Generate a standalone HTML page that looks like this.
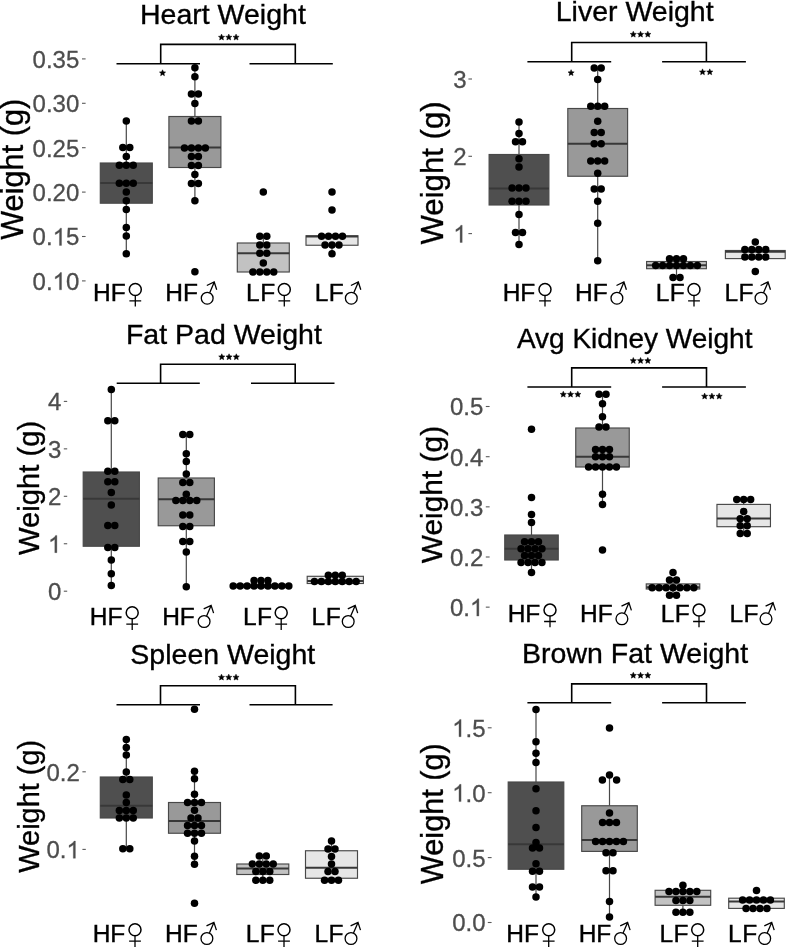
<!DOCTYPE html>
<html><head><meta charset="utf-8"><title>Organ weights</title>
<style>html,body{margin:0;padding:0;background:#fff;}body{width:787px;height:949px;overflow:hidden;font-family:"Liberation Sans", sans-serif;}svg{will-change:transform;}svg text{font-family:"Liberation Sans", sans-serif;}</style></head>
<body>
<svg width="787" height="949" viewBox="0 0 787 949" font-family='"Liberation Sans", sans-serif' style="display:block">
<rect width="787" height="949" fill="#fff"/>
<g>
<text x="222.9" y="24" font-size="28.5" text-anchor="middle" fill="#000" stroke="#000" stroke-width="0.35">Heart Weight</text>
<text transform="translate(23.4 169.3) rotate(-90)" font-size="30.7" text-anchor="middle" fill="#000" stroke="#000" stroke-width="0.35">Weight (g)</text>
<g font-size="24" fill="#4d4d4d" stroke="#4d4d4d" stroke-width="0.3"><text x="32.6" y="67.8">0</text><text x="45.94" y="67.8">.</text><text x="52.61" y="67.8">3</text><text x="65.96" y="67.8">5</text></g>
<path d="M82 58.9H85.6" stroke="#5a5a5a" stroke-width="1.1"/>
<g font-size="24" fill="#4d4d4d" stroke="#4d4d4d" stroke-width="0.3"><text x="32.6" y="112.2">0</text><text x="45.94" y="112.2">.</text><text x="52.61" y="112.2">3</text><text x="65.96" y="112.2">0</text></g>
<path d="M82 103.3H85.6" stroke="#5a5a5a" stroke-width="1.1"/>
<g font-size="24" fill="#4d4d4d" stroke="#4d4d4d" stroke-width="0.3"><text x="32.6" y="156.6">0</text><text x="45.94" y="156.6">.</text><text x="52.61" y="156.6">2</text><text x="65.96" y="156.6">5</text></g>
<path d="M82 147.7H85.6" stroke="#5a5a5a" stroke-width="1.1"/>
<g font-size="24" fill="#4d4d4d" stroke="#4d4d4d" stroke-width="0.3"><text x="32.6" y="201">0</text><text x="45.94" y="201">.</text><text x="52.61" y="201">2</text><text x="65.96" y="201">0</text></g>
<path d="M82 192.1H85.6" stroke="#5a5a5a" stroke-width="1.1"/>
<g font-size="24" fill="#4d4d4d" stroke="#4d4d4d" stroke-width="0.3"><text x="32.6" y="245.4">0</text><text x="45.94" y="245.4">.</text><path d="M61.55 245.4L59.44 245.4L59.44 231.96Q58.68 232.69 57.45 233.41Q56.21 234.14 55.23 234.5L55.23 232.46Q56.99 231.63 58.32 230.45Q59.64 229.26 60.19 228.15L61.55 228.15Z"/><text x="65.96" y="245.4">5</text></g>
<path d="M82 236.5H85.6" stroke="#5a5a5a" stroke-width="1.1"/>
<g font-size="24" fill="#4d4d4d" stroke="#4d4d4d" stroke-width="0.3"><text x="32.6" y="289.8">0</text><text x="45.94" y="289.8">.</text><path d="M61.55 289.8L59.44 289.8L59.44 276.36Q58.68 277.09 57.45 277.81Q56.21 278.54 55.23 278.9L55.23 276.86Q56.99 276.03 58.32 274.85Q59.64 273.66 60.19 272.55L61.55 272.55Z"/><text x="65.96" y="289.8">0</text></g>
<path d="M82 280.9H85.6" stroke="#5a5a5a" stroke-width="1.1"/>
<path d="M116.5 63.7H200M249.5 63.7H332.8M160.7 63.7V44.4H295.3V63.7" fill="none" stroke="#000" stroke-width="1.6"/>
<g fill="#000" stroke="#000" stroke-width="0.5" stroke-linejoin="round"><polygon points="221.54,34.11 222.42,36.15 224.63,36.35 222.97,37.82 223.45,39.99 221.54,38.86 219.63,39.99 220.11,37.82 218.45,36.35 220.66,36.15"/><polygon points="228.8,34.11 229.68,36.15 231.89,36.35 230.23,37.82 230.71,39.99 228.8,38.86 226.89,39.99 227.37,37.82 225.71,36.35 227.92,36.15"/><polygon points="236.06,34.11 236.94,36.15 239.15,36.35 237.49,37.82 237.97,39.99 236.06,38.86 234.15,39.99 234.63,37.82 232.97,36.35 235.18,36.15"/></g>
<g fill="#000" stroke="#000" stroke-width="0.5" stroke-linejoin="round"><polygon points="162.55,69.81 163.43,71.85 165.64,72.05 163.98,73.52 164.46,75.69 162.55,74.56 160.64,75.69 161.12,73.52 159.46,72.05 161.67,71.85"/></g>
<path d="M126.3 121V163M126.3 203.2V253.75" stroke="#484848" stroke-width="1.2"/>
<rect x="100.3" y="163" width="52" height="40.2" fill="#4f4f4f" stroke="#484848" stroke-width="1.15"/>
<path d="M100.3 183H152.3" stroke="#383838" stroke-width="2"/>
<g fill="#000"><circle cx="126.3" cy="121" r="3.75"/><circle cx="122.83" cy="147.5" r="3.75"/><circle cx="129.78" cy="147.5" r="3.75"/><circle cx="126.3" cy="156.5" r="3.75"/><circle cx="119.35" cy="165.3" r="3.75"/><circle cx="126.3" cy="165.3" r="3.75"/><circle cx="133.25" cy="165.3" r="3.75"/><circle cx="119.35" cy="183.2" r="3.75"/><circle cx="126.3" cy="183.2" r="3.75"/><circle cx="133.25" cy="183.2" r="3.75"/><circle cx="126.3" cy="192" r="3.75"/><circle cx="126.3" cy="200.8" r="3.75"/><circle cx="126.3" cy="209.5" r="3.75"/><circle cx="126.3" cy="227.5" r="3.75"/><circle cx="126.3" cy="236" r="3.75"/><circle cx="126.3" cy="253.75" r="3.75"/></g>
<path d="M194.9 67.8V116.5M194.9 167.5V200.8" stroke="#484848" stroke-width="1.2"/>
<rect x="168.9" y="116.5" width="52" height="51" fill="#999999" stroke="#484848" stroke-width="1.15"/>
<path d="M168.9 147.5H220.9" stroke="#383838" stroke-width="2"/>
<g fill="#000"><circle cx="194.9" cy="67.8" r="3.75"/><circle cx="194.9" cy="76.8" r="3.75"/><circle cx="191.43" cy="94" r="3.75"/><circle cx="198.38" cy="94" r="3.75"/><circle cx="194.9" cy="103.5" r="3.75"/><circle cx="191.43" cy="121" r="3.75"/><circle cx="198.38" cy="121" r="3.75"/><circle cx="184.47" cy="148" r="3.75"/><circle cx="191.43" cy="148" r="3.75"/><circle cx="198.38" cy="148" r="3.75"/><circle cx="205.33" cy="148" r="3.75"/><circle cx="191.43" cy="156.5" r="3.75"/><circle cx="198.38" cy="156.5" r="3.75"/><circle cx="191.43" cy="165.5" r="3.75"/><circle cx="198.38" cy="165.5" r="3.75"/><circle cx="194.9" cy="174.5" r="3.75"/><circle cx="191.43" cy="183.5" r="3.75"/><circle cx="198.38" cy="183.5" r="3.75"/><circle cx="194.9" cy="200.8" r="3.75"/><circle cx="194.9" cy="271.75" r="3.75"/></g>
<path d="M263.3 236.25V243M263.3 272V272" stroke="#484848" stroke-width="1.2"/>
<rect x="237.3" y="243" width="52" height="29" fill="#c2c2c2" stroke="#484848" stroke-width="1.15"/>
<path d="M237.3 253.25H289.3" stroke="#383838" stroke-width="2"/>
<g fill="#000"><circle cx="263.3" cy="192" r="3.75"/><circle cx="259.82" cy="236.25" r="3.75"/><circle cx="266.78" cy="236.25" r="3.75"/><circle cx="259.82" cy="245" r="3.75"/><circle cx="266.78" cy="245" r="3.75"/><circle cx="259.82" cy="253.25" r="3.75"/><circle cx="266.78" cy="253.25" r="3.75"/><circle cx="263.3" cy="263" r="3.75"/><circle cx="252.88" cy="272" r="3.75"/><circle cx="259.82" cy="272" r="3.75"/><circle cx="266.78" cy="272" r="3.75"/><circle cx="273.73" cy="272" r="3.75"/></g>
<path d="M332 235.75V235.75M332 245.25V253.75" stroke="#484848" stroke-width="1.2"/>
<rect x="306" y="235.75" width="52" height="9.5" fill="#e6e6e6" stroke="#484848" stroke-width="1.15"/>
<path d="M306 236.6H358" stroke="#383838" stroke-width="2"/>
<g fill="#000"><circle cx="332" cy="192" r="3.75"/><circle cx="332" cy="210" r="3.75"/><circle cx="321.57" cy="236.25" r="3.75"/><circle cx="328.52" cy="236.25" r="3.75"/><circle cx="335.48" cy="236.25" r="3.75"/><circle cx="342.43" cy="236.25" r="3.75"/><circle cx="325.05" cy="245" r="3.75"/><circle cx="332" cy="245" r="3.75"/><circle cx="338.95" cy="245" r="3.75"/><circle cx="332" cy="253.75" r="3.75"/></g>
<text x="92.95" y="301.2" font-size="24.5" fill="#000" stroke="#000" stroke-width="0.4">HF</text>
<g fill="none" stroke="#000"><circle cx="135.3" cy="289.5" r="6" stroke-width="1.5"/><path d="M135.3 295.5V306.6M129.4 300.9H141.2" stroke-width="1.3"/></g>
<text x="165.25" y="301.2" font-size="24.5" fill="#000" stroke="#000" stroke-width="0.4">HF</text>
<g fill="none" stroke="#000" stroke-width="1.3"><circle cx="207.2" cy="298.2" r="5.9"/><path d="M209.7 292.8L214.2 282.2M206.8 285.5L214.2 282L216.7 289.8"/></g>
<text x="246.1" y="301.2" font-size="24.5" fill="#000" stroke="#000" stroke-width="0.4">L<tspan dx="0.4">F</tspan></text>
<g fill="none" stroke="#000"><circle cx="284.3" cy="289.5" r="6" stroke-width="1.5"/><path d="M284.3 295.5V306.6M278.4 300.9H290.2" stroke-width="1.3"/></g>
<text x="314.7" y="301.2" font-size="24.5" fill="#000" stroke="#000" stroke-width="0.4">L<tspan dx="0.4">F</tspan></text>
<g fill="none" stroke="#000" stroke-width="1.3"><circle cx="351.3" cy="298.2" r="5.9"/><path d="M353.8 292.8L358.3 282.2M350.9 285.5L358.3 282L360.8 289.8"/></g>
</g>
<g>
<text x="634.7" y="21.3" font-size="28.5" text-anchor="middle" fill="#000" stroke="#000" stroke-width="0.35">Liver Weight</text>
<text transform="translate(442.6 172.95) rotate(-90)" font-size="31.2" text-anchor="middle" fill="#000" stroke="#000" stroke-width="0.35">Weight (g)</text>
<g font-size="24" fill="#4d4d4d" stroke="#4d4d4d" stroke-width="0.3"><text x="453.26" y="87.9">3</text></g>
<path d="M468.4 79H472" stroke="#5a5a5a" stroke-width="1.1"/>
<g font-size="24" fill="#4d4d4d" stroke="#4d4d4d" stroke-width="0.3"><text x="453.26" y="165.2">2</text></g>
<path d="M468.4 156.3H472" stroke="#5a5a5a" stroke-width="1.1"/>
<g font-size="24" fill="#4d4d4d" stroke="#4d4d4d" stroke-width="0.3"><path d="M462.2 242.5L460.09 242.5L460.09 229.06Q459.33 229.79 458.09 230.51Q456.85 231.24 455.87 231.6L455.87 229.56Q457.64 228.73 458.96 227.55Q460.29 226.36 460.84 225.25L462.2 225.25Z"/></g>
<path d="M468.4 233.6H472" stroke="#5a5a5a" stroke-width="1.1"/>
<path d="M527.4 61.7H611.2M662.1 61.7H745.9M571.7 61.7V42.5H706.4V61.7" fill="none" stroke="#000" stroke-width="1.6"/>
<g fill="#000" stroke="#000" stroke-width="0.5" stroke-linejoin="round"><polygon points="633.29,31.21 634.17,33.25 636.38,33.45 634.72,34.92 635.2,37.09 633.29,35.96 631.38,37.09 631.86,34.92 630.2,33.45 632.41,33.25"/><polygon points="640.55,31.21 641.43,33.25 643.64,33.45 641.98,34.92 642.46,37.09 640.55,35.96 638.64,37.09 639.12,34.92 637.46,33.45 639.67,33.25"/><polygon points="647.81,31.21 648.69,33.25 650.9,33.45 649.24,34.92 649.72,37.09 647.81,35.96 645.9,37.09 646.38,34.92 644.72,33.45 646.93,33.25"/></g>
<g fill="#000" stroke="#000" stroke-width="0.5" stroke-linejoin="round"><polygon points="571.1,69.66 571.98,71.7 574.19,71.9 572.53,73.37 573.01,75.54 571.1,74.41 569.19,75.54 569.67,73.37 568.01,71.9 570.22,71.7"/></g>
<g fill="#000" stroke="#000" stroke-width="0.5" stroke-linejoin="round"><polygon points="702.52,68.86 703.4,70.9 705.61,71.1 703.95,72.57 704.43,74.74 702.52,73.61 700.61,74.74 701.09,72.57 699.43,71.1 701.64,70.9"/><polygon points="709.78,68.86 710.66,70.9 712.87,71.1 711.21,72.57 711.69,74.74 709.78,73.61 707.87,74.74 708.35,72.57 706.69,71.1 708.9,70.9"/></g>
<path d="M519 122V154.5M519 205V244.5" stroke="#484848" stroke-width="1.2"/>
<rect x="489.1" y="154.5" width="59.8" height="50.5" fill="#4f4f4f" stroke="#484848" stroke-width="1.15"/>
<path d="M489.1 188.5H548.9" stroke="#383838" stroke-width="2"/>
<g fill="#000"><circle cx="519" cy="122" r="3.75"/><circle cx="519" cy="133.5" r="3.75"/><circle cx="515.52" cy="141.8" r="3.75"/><circle cx="522.48" cy="141.8" r="3.75"/><circle cx="519" cy="158.75" r="3.75"/><circle cx="519" cy="167" r="3.75"/><circle cx="512.05" cy="188" r="3.75"/><circle cx="519" cy="188" r="3.75"/><circle cx="525.95" cy="188" r="3.75"/><circle cx="512.05" cy="201.25" r="3.75"/><circle cx="519" cy="201.25" r="3.75"/><circle cx="525.95" cy="201.25" r="3.75"/><circle cx="519" cy="214.5" r="3.75"/><circle cx="515.52" cy="232.5" r="3.75"/><circle cx="522.48" cy="232.5" r="3.75"/><circle cx="519" cy="244.5" r="3.75"/></g>
<path d="M597.7 68V108.5M597.7 176.25V260.75" stroke="#484848" stroke-width="1.2"/>
<rect x="567.8" y="108.5" width="59.8" height="67.75" fill="#999999" stroke="#484848" stroke-width="1.15"/>
<path d="M567.8 143.75H627.6" stroke="#383838" stroke-width="2"/>
<g fill="#000"><circle cx="594.23" cy="68" r="3.75"/><circle cx="601.18" cy="68" r="3.75"/><circle cx="597.7" cy="79.5" r="3.75"/><circle cx="590.75" cy="106.25" r="3.75"/><circle cx="597.7" cy="106.25" r="3.75"/><circle cx="604.65" cy="106.25" r="3.75"/><circle cx="597.7" cy="121.25" r="3.75"/><circle cx="594.23" cy="132.5" r="3.75"/><circle cx="601.18" cy="132.5" r="3.75"/><circle cx="594.23" cy="143.75" r="3.75"/><circle cx="601.18" cy="143.75" r="3.75"/><circle cx="590.75" cy="160.9" r="3.75"/><circle cx="597.7" cy="160.9" r="3.75"/><circle cx="604.65" cy="160.9" r="3.75"/><circle cx="597.7" cy="173.2" r="3.75"/><circle cx="594.23" cy="189" r="3.75"/><circle cx="601.18" cy="189" r="3.75"/><circle cx="597.7" cy="201.25" r="3.75"/><circle cx="597.7" cy="223.25" r="3.75"/><circle cx="597.7" cy="260.75" r="3.75"/></g>
<path d="M676.5 258.7V261.5M676.5 268.7V277.5" stroke="#484848" stroke-width="1.2"/>
<rect x="646.6" y="261.5" width="59.8" height="7.2" fill="#c2c2c2" stroke="#484848" stroke-width="1.15"/>
<path d="M646.6 265.2H706.4" stroke="#383838" stroke-width="2"/>
<g fill="#000"><circle cx="669.55" cy="258.7" r="3.75"/><circle cx="676.5" cy="258.7" r="3.75"/><circle cx="683.45" cy="258.7" r="3.75"/><circle cx="655.65" cy="265.6" r="3.75"/><circle cx="662.6" cy="265.6" r="3.75"/><circle cx="669.55" cy="265.6" r="3.75"/><circle cx="676.5" cy="265.6" r="3.75"/><circle cx="683.45" cy="265.6" r="3.75"/><circle cx="690.4" cy="265.6" r="3.75"/><circle cx="697.35" cy="265.6" r="3.75"/><circle cx="673.02" cy="277.5" r="3.75"/><circle cx="679.98" cy="277.5" r="3.75"/></g>
<path d="M755.3 250.5V250.5M755.3 258.6V258.6" stroke="#484848" stroke-width="1.2"/>
<rect x="725.4" y="250.5" width="59.8" height="8.1" fill="#e6e6e6" stroke="#484848" stroke-width="1.15"/>
<path d="M725.4 251.7H785.2" stroke="#383838" stroke-width="2"/>
<g fill="#000"><circle cx="755.3" cy="242" r="3.75"/><circle cx="744.88" cy="249.6" r="3.75"/><circle cx="751.82" cy="249.6" r="3.75"/><circle cx="758.77" cy="249.6" r="3.75"/><circle cx="765.72" cy="249.6" r="3.75"/><circle cx="744.88" cy="257" r="3.75"/><circle cx="751.82" cy="257" r="3.75"/><circle cx="758.77" cy="257" r="3.75"/><circle cx="765.72" cy="257" r="3.75"/><circle cx="755.3" cy="271.6" r="3.75"/></g>
<text x="502.65" y="301.2" font-size="24.5" fill="#000" stroke="#000" stroke-width="0.4">HF</text>
<g fill="none" stroke="#000"><circle cx="545" cy="289.5" r="6" stroke-width="1.5"/><path d="M545 295.5V306.6M539.1 300.9H550.9" stroke-width="1.3"/></g>
<text x="574.95" y="301.2" font-size="24.5" fill="#000" stroke="#000" stroke-width="0.4">HF</text>
<g fill="none" stroke="#000" stroke-width="1.3"><circle cx="616.9" cy="298.2" r="5.9"/><path d="M619.4 292.8L623.9 282.2M616.5 285.5L623.9 282L626.4 289.8"/></g>
<text x="655.8" y="301.2" font-size="24.5" fill="#000" stroke="#000" stroke-width="0.4">L<tspan dx="0.4">F</tspan></text>
<g fill="none" stroke="#000"><circle cx="694" cy="289.5" r="6" stroke-width="1.5"/><path d="M694 295.5V306.6M688.1 300.9H699.9" stroke-width="1.3"/></g>
<text x="724.4" y="301.2" font-size="24.5" fill="#000" stroke="#000" stroke-width="0.4">L<tspan dx="0.4">F</tspan></text>
<g fill="none" stroke="#000" stroke-width="1.3"><circle cx="761" cy="298.2" r="5.9"/><path d="M763.5 292.8L768 282.2M760.6 285.5L768 282L770.5 289.8"/></g>
</g>
<g>
<text x="223.9" y="344" font-size="28.5" text-anchor="middle" fill="#000" stroke="#000" stroke-width="0.35">Fat Pad Weight</text>
<text transform="translate(38.8 487.95) rotate(-90)" font-size="29.2" text-anchor="middle" fill="#000" stroke="#000" stroke-width="0.35">Weight (g)</text>
<g font-size="24" fill="#4d4d4d" stroke="#4d4d4d" stroke-width="0.3"><text x="47.96" y="410.3">4</text></g>
<path d="M63.8 401.4H67.2" stroke="#5a5a5a" stroke-width="1.1"/>
<g font-size="24" fill="#4d4d4d" stroke="#4d4d4d" stroke-width="0.3"><text x="47.96" y="457.75">3</text></g>
<path d="M63.8 448.85H67.2" stroke="#5a5a5a" stroke-width="1.1"/>
<g font-size="24" fill="#4d4d4d" stroke="#4d4d4d" stroke-width="0.3"><text x="47.96" y="505.2">2</text></g>
<path d="M63.8 496.3H67.2" stroke="#5a5a5a" stroke-width="1.1"/>
<g font-size="24" fill="#4d4d4d" stroke="#4d4d4d" stroke-width="0.3"><path d="M56.9 552.65L54.79 552.65L54.79 539.21Q54.03 539.94 52.79 540.66Q51.55 541.39 50.57 541.75L50.57 539.71Q52.34 538.88 53.66 537.7Q54.99 536.51 55.54 535.4L56.9 535.4Z"/></g>
<path d="M63.8 543.75H67.2" stroke="#5a5a5a" stroke-width="1.1"/>
<g font-size="24" fill="#4d4d4d" stroke="#4d4d4d" stroke-width="0.3"><text x="47.96" y="600.1">0</text></g>
<path d="M63.8 591.2H67.2" stroke="#5a5a5a" stroke-width="1.1"/>
<path d="M116.7 383.2H199.8M251 383.2H334.5M160.6 383.2V364.2H295.2V383.2" fill="none" stroke="#000" stroke-width="1.6"/>
<g fill="#000" stroke="#000" stroke-width="0.5" stroke-linejoin="round"><polygon points="221.79,353.81 222.67,355.85 224.88,356.05 223.22,357.52 223.7,359.69 221.79,358.56 219.88,359.69 220.36,357.52 218.7,356.05 220.91,355.85"/><polygon points="229.05,353.81 229.93,355.85 232.14,356.05 230.48,357.52 230.96,359.69 229.05,358.56 227.14,359.69 227.62,357.52 225.96,356.05 228.17,355.85"/><polygon points="236.31,353.81 237.19,355.85 239.4,356.05 237.74,357.52 238.22,359.69 236.31,358.56 234.4,359.69 234.88,357.52 233.22,356.05 235.43,355.85"/></g>
<path d="M111.3 389.5V472M111.3 546.25V585.5" stroke="#484848" stroke-width="1.2"/>
<rect x="83.2" y="472" width="56.2" height="74.25" fill="#4f4f4f" stroke="#484848" stroke-width="1.15"/>
<path d="M83.2 498.75H139.4" stroke="#383838" stroke-width="2"/>
<g fill="#000"><circle cx="111.3" cy="389.5" r="3.75"/><circle cx="107.83" cy="420.75" r="3.75"/><circle cx="114.77" cy="420.75" r="3.75"/><circle cx="107.83" cy="471.25" r="3.75"/><circle cx="114.77" cy="471.25" r="3.75"/><circle cx="107.83" cy="481.75" r="3.75"/><circle cx="114.77" cy="481.75" r="3.75"/><circle cx="111.3" cy="492.5" r="3.75"/><circle cx="111.3" cy="505" r="3.75"/><circle cx="107.83" cy="525.5" r="3.75"/><circle cx="114.77" cy="525.5" r="3.75"/><circle cx="107.83" cy="547.5" r="3.75"/><circle cx="114.77" cy="547.5" r="3.75"/><circle cx="111.3" cy="560" r="3.75"/><circle cx="111.3" cy="573.75" r="3.75"/><circle cx="111.3" cy="585.5" r="3.75"/></g>
<path d="M186.3 434.5V478M186.3 525.75V586.75" stroke="#484848" stroke-width="1.2"/>
<rect x="158.2" y="478" width="56.2" height="47.75" fill="#999999" stroke="#484848" stroke-width="1.15"/>
<path d="M158.2 499.25H214.4" stroke="#383838" stroke-width="2"/>
<g fill="#000"><circle cx="182.83" cy="434.5" r="3.75"/><circle cx="189.78" cy="434.5" r="3.75"/><circle cx="186.3" cy="453.75" r="3.75"/><circle cx="186.3" cy="461.5" r="3.75"/><circle cx="186.3" cy="474" r="3.75"/><circle cx="182.83" cy="482.5" r="3.75"/><circle cx="189.78" cy="482.5" r="3.75"/><circle cx="186.3" cy="494.2" r="3.75"/><circle cx="175.88" cy="500.5" r="3.75"/><circle cx="182.83" cy="500.5" r="3.75"/><circle cx="189.78" cy="500.5" r="3.75"/><circle cx="196.73" cy="500.5" r="3.75"/><circle cx="182.83" cy="515" r="3.75"/><circle cx="189.78" cy="515" r="3.75"/><circle cx="182.83" cy="526.5" r="3.75"/><circle cx="189.78" cy="526.5" r="3.75"/><circle cx="182.83" cy="541.5" r="3.75"/><circle cx="189.78" cy="541.5" r="3.75"/><circle cx="186.3" cy="552" r="3.75"/><circle cx="186.3" cy="586.75" r="3.75"/></g>
<path d="M261 584.3V584.3M261 587.6V587.6" stroke="#484848" stroke-width="1.2"/>
<rect x="232.9" y="584.3" width="56.2" height="3.3" fill="#c2c2c2" stroke="#484848" stroke-width="1.15"/>
<path d="M232.9 585.9H289.1" stroke="#383838" stroke-width="2"/>
<g fill="#000"><circle cx="254.05" cy="580.4" r="3.75"/><circle cx="261" cy="580.4" r="3.75"/><circle cx="267.95" cy="580.4" r="3.75"/><circle cx="233.2" cy="585.9" r="3.75"/><circle cx="240.15" cy="585.9" r="3.75"/><circle cx="247.1" cy="585.9" r="3.75"/><circle cx="254.05" cy="585.9" r="3.75"/><circle cx="261" cy="585.9" r="3.75"/><circle cx="267.95" cy="585.9" r="3.75"/><circle cx="274.9" cy="585.9" r="3.75"/><circle cx="281.85" cy="585.9" r="3.75"/><circle cx="288.8" cy="585.9" r="3.75"/></g>
<path d="M335.3 576.3V576.3M335.3 583.5V583.5" stroke="#484848" stroke-width="1.2"/>
<rect x="307.2" y="576.3" width="56.2" height="7.2" fill="#e6e6e6" stroke="#484848" stroke-width="1.15"/>
<path d="M307.2 581H363.4" stroke="#383838" stroke-width="2"/>
<g fill="#000"><circle cx="328.35" cy="575.3" r="3.75"/><circle cx="335.3" cy="575.3" r="3.75"/><circle cx="342.25" cy="575.3" r="3.75"/><circle cx="314.45" cy="581.4" r="3.75"/><circle cx="321.4" cy="581.4" r="3.75"/><circle cx="328.35" cy="581.4" r="3.75"/><circle cx="335.3" cy="581.4" r="3.75"/><circle cx="342.25" cy="581.4" r="3.75"/><circle cx="349.2" cy="581.4" r="3.75"/><circle cx="356.15" cy="581.4" r="3.75"/></g>
<text x="89.85" y="624.5" font-size="24.5" fill="#000" stroke="#000" stroke-width="0.4">HF</text>
<g fill="none" stroke="#000"><circle cx="132.2" cy="612.8" r="6" stroke-width="1.5"/><path d="M132.2 618.8V629.9M126.3 624.2H138.1" stroke-width="1.3"/></g>
<text x="162.15" y="624.5" font-size="24.5" fill="#000" stroke="#000" stroke-width="0.4">HF</text>
<g fill="none" stroke="#000" stroke-width="1.3"><circle cx="204.1" cy="621.5" r="5.9"/><path d="M206.6 616.1L211.1 605.5M203.7 608.8L211.1 605.3L213.6 613.1"/></g>
<text x="243" y="624.5" font-size="24.5" fill="#000" stroke="#000" stroke-width="0.4">L<tspan dx="0.4">F</tspan></text>
<g fill="none" stroke="#000"><circle cx="281.2" cy="612.8" r="6" stroke-width="1.5"/><path d="M281.2 618.8V629.9M275.3 624.2H287.1" stroke-width="1.3"/></g>
<text x="311.6" y="624.5" font-size="24.5" fill="#000" stroke="#000" stroke-width="0.4">L<tspan dx="0.4">F</tspan></text>
<g fill="none" stroke="#000" stroke-width="1.3"><circle cx="348.2" cy="621.5" r="5.9"/><path d="M350.7 616.1L355.2 605.5M347.8 608.8L355.2 605.3L357.7 613.1"/></g>
</g>
<g>
<text x="634.7" y="347.5" font-size="28" text-anchor="middle" fill="#000" stroke="#000" stroke-width="0.35">Avg Kidney Weight</text>
<text transform="translate(442.3 494.55) rotate(-90)" font-size="29.9" text-anchor="middle" fill="#000" stroke="#000" stroke-width="0.35">Weight (g)</text>
<g font-size="24" fill="#4d4d4d" stroke="#4d4d4d" stroke-width="0.3"><text x="449.94" y="415.4">0</text><text x="463.28" y="415.4">.</text><text x="469.96" y="415.4">5</text></g>
<path d="M485.8 406.5H489.6" stroke="#5a5a5a" stroke-width="1.1"/>
<g font-size="24" fill="#4d4d4d" stroke="#4d4d4d" stroke-width="0.3"><text x="449.94" y="465.6">0</text><text x="463.28" y="465.6">.</text><text x="469.96" y="465.6">4</text></g>
<path d="M485.8 456.7H489.6" stroke="#5a5a5a" stroke-width="1.1"/>
<g font-size="24" fill="#4d4d4d" stroke="#4d4d4d" stroke-width="0.3"><text x="449.94" y="515.75">0</text><text x="463.28" y="515.75">.</text><text x="469.96" y="515.75">3</text></g>
<path d="M485.8 506.85H489.6" stroke="#5a5a5a" stroke-width="1.1"/>
<g font-size="24" fill="#4d4d4d" stroke="#4d4d4d" stroke-width="0.3"><text x="449.94" y="565.9">0</text><text x="463.28" y="565.9">.</text><text x="469.96" y="565.9">2</text></g>
<path d="M485.8 557H489.6" stroke="#5a5a5a" stroke-width="1.1"/>
<g font-size="24" fill="#4d4d4d" stroke="#4d4d4d" stroke-width="0.3"><text x="449.94" y="616.05">0</text><text x="463.28" y="616.05">.</text><path d="M478.9 616.05L476.79 616.05L476.79 602.61Q476.03 603.34 474.79 604.06Q473.55 604.79 472.57 605.15L472.57 603.11Q474.34 602.28 475.66 601.1Q476.99 599.91 477.54 598.8L478.9 598.8Z"/></g>
<path d="M485.8 607.15H489.6" stroke="#5a5a5a" stroke-width="1.1"/>
<path d="M527.4 387H611.2M662.1 387H745.9M571.7 387V367.9H706.5V387" fill="none" stroke="#000" stroke-width="1.6"/>
<g fill="#000" stroke="#000" stroke-width="0.5" stroke-linejoin="round"><polygon points="633.29,357.51 634.17,359.55 636.38,359.75 634.72,361.22 635.2,363.39 633.29,362.26 631.38,363.39 631.86,361.22 630.2,359.75 632.41,359.55"/><polygon points="640.55,357.51 641.43,359.55 643.64,359.75 641.98,361.22 642.46,363.39 640.55,362.26 638.64,363.39 639.12,361.22 637.46,359.75 639.67,359.55"/><polygon points="647.81,357.51 648.69,359.55 650.9,359.75 649.24,361.22 649.72,363.39 647.81,362.26 645.9,363.39 646.38,361.22 644.72,359.75 646.93,359.55"/></g>
<g fill="#000" stroke="#000" stroke-width="0.5" stroke-linejoin="round"><polygon points="563.29,391.21 564.17,393.25 566.38,393.45 564.72,394.92 565.2,397.09 563.29,395.96 561.38,397.09 561.86,394.92 560.2,393.45 562.41,393.25"/><polygon points="570.55,391.21 571.43,393.25 573.64,393.45 571.98,394.92 572.46,397.09 570.55,395.96 568.64,397.09 569.12,394.92 567.46,393.45 569.67,393.25"/><polygon points="577.81,391.21 578.69,393.25 580.9,393.45 579.24,394.92 579.72,397.09 577.81,395.96 575.9,397.09 576.38,394.92 574.72,393.45 576.93,393.25"/></g>
<g fill="#000" stroke="#000" stroke-width="0.5" stroke-linejoin="round"><polygon points="704.64,393.11 705.52,395.15 707.73,395.35 706.07,396.82 706.55,398.99 704.64,397.86 702.73,398.99 703.21,396.82 701.55,395.35 703.76,395.15"/><polygon points="711.9,393.11 712.78,395.15 714.99,395.35 713.33,396.82 713.81,398.99 711.9,397.86 709.99,398.99 710.47,396.82 708.81,395.35 711.02,395.15"/><polygon points="719.16,393.11 720.04,395.15 722.25,395.35 720.59,396.82 721.07,398.99 719.16,397.86 717.25,398.99 717.73,396.82 716.07,395.35 718.28,395.15"/></g>
<path d="M531.5 522.5V535M531.5 560V572.5" stroke="#484848" stroke-width="1.2"/>
<rect x="504.75" y="535" width="53.5" height="25" fill="#4f4f4f" stroke="#484848" stroke-width="1.15"/>
<path d="M504.75 548.75H558.25" stroke="#383838" stroke-width="2"/>
<g fill="#000"><circle cx="531.5" cy="429.25" r="3.75"/><circle cx="531.5" cy="497.5" r="3.75"/><circle cx="531.5" cy="514.5" r="3.75"/><circle cx="531.5" cy="522.5" r="3.75"/><circle cx="524.55" cy="541.75" r="3.75"/><circle cx="531.5" cy="541.75" r="3.75"/><circle cx="538.45" cy="541.75" r="3.75"/><circle cx="521.08" cy="548.75" r="3.75"/><circle cx="528.02" cy="548.75" r="3.75"/><circle cx="534.98" cy="548.75" r="3.75"/><circle cx="541.92" cy="548.75" r="3.75"/><circle cx="524.55" cy="555.5" r="3.75"/><circle cx="531.5" cy="555.5" r="3.75"/><circle cx="538.45" cy="555.5" r="3.75"/><circle cx="521.08" cy="562.5" r="3.75"/><circle cx="528.02" cy="562.5" r="3.75"/><circle cx="534.98" cy="562.5" r="3.75"/><circle cx="541.92" cy="562.5" r="3.75"/><circle cx="531.5" cy="572.5" r="3.75"/></g>
<path d="M602.5 394.25V428M602.5 467V504.5" stroke="#484848" stroke-width="1.2"/>
<rect x="575.75" y="428" width="53.5" height="39" fill="#999999" stroke="#484848" stroke-width="1.15"/>
<path d="M575.75 456.75H629.25" stroke="#383838" stroke-width="2"/>
<g fill="#000"><circle cx="599.02" cy="394.25" r="3.75"/><circle cx="605.98" cy="394.25" r="3.75"/><circle cx="602.5" cy="403.75" r="3.75"/><circle cx="602.5" cy="416.75" r="3.75"/><circle cx="599.02" cy="427" r="3.75"/><circle cx="605.98" cy="427" r="3.75"/><circle cx="595.55" cy="449.5" r="3.75"/><circle cx="602.5" cy="449.5" r="3.75"/><circle cx="609.45" cy="449.5" r="3.75"/><circle cx="595.55" cy="456.75" r="3.75"/><circle cx="602.5" cy="456.75" r="3.75"/><circle cx="609.45" cy="456.75" r="3.75"/><circle cx="588.6" cy="467" r="3.75"/><circle cx="595.55" cy="467" r="3.75"/><circle cx="602.5" cy="467" r="3.75"/><circle cx="609.45" cy="467" r="3.75"/><circle cx="616.4" cy="467" r="3.75"/><circle cx="602.5" cy="494.25" r="3.75"/><circle cx="602.5" cy="504.5" r="3.75"/><circle cx="602.5" cy="550" r="3.75"/></g>
<path d="M673 580V583.9M673 589V595" stroke="#484848" stroke-width="1.2"/>
<rect x="646.25" y="583.9" width="53.5" height="5.1" fill="#c2c2c2" stroke="#484848" stroke-width="1.15"/>
<path d="M646.25 587.2H699.75" stroke="#383838" stroke-width="2"/>
<g fill="#000"><circle cx="673" cy="572.4" r="3.75"/><circle cx="669.52" cy="580" r="3.75"/><circle cx="676.48" cy="580" r="3.75"/><circle cx="652.15" cy="587.7" r="3.75"/><circle cx="659.1" cy="587.7" r="3.75"/><circle cx="666.05" cy="587.7" r="3.75"/><circle cx="673" cy="587.7" r="3.75"/><circle cx="679.95" cy="587.7" r="3.75"/><circle cx="686.9" cy="587.7" r="3.75"/><circle cx="693.85" cy="587.7" r="3.75"/><circle cx="669.52" cy="595.2" r="3.75"/><circle cx="676.48" cy="595.2" r="3.75"/></g>
<path d="M743.7 499.4V504.4M743.7 526.7V533.4" stroke="#484848" stroke-width="1.2"/>
<rect x="716.95" y="504.4" width="53.5" height="22.3" fill="#e6e6e6" stroke="#484848" stroke-width="1.15"/>
<path d="M716.95 518.5H770.45" stroke="#383838" stroke-width="2"/>
<g fill="#000"><circle cx="736.75" cy="499.4" r="3.75"/><circle cx="743.7" cy="499.4" r="3.75"/><circle cx="750.65" cy="499.4" r="3.75"/><circle cx="743.7" cy="511.4" r="3.75"/><circle cx="740.23" cy="518.7" r="3.75"/><circle cx="747.18" cy="518.7" r="3.75"/><circle cx="740.23" cy="525.7" r="3.75"/><circle cx="747.18" cy="525.7" r="3.75"/><circle cx="740.23" cy="533.4" r="3.75"/><circle cx="747.18" cy="533.4" r="3.75"/></g>
<text x="507.65" y="621.8" font-size="24.5" fill="#000" stroke="#000" stroke-width="0.4">HF</text>
<g fill="none" stroke="#000"><circle cx="550" cy="610.1" r="6" stroke-width="1.5"/><path d="M550 616.1V627.2M544.1 621.5H555.9" stroke-width="1.3"/></g>
<text x="579.95" y="621.8" font-size="24.5" fill="#000" stroke="#000" stroke-width="0.4">HF</text>
<g fill="none" stroke="#000" stroke-width="1.3"><circle cx="621.9" cy="618.8" r="5.9"/><path d="M624.4 613.4L628.9 602.8M621.5 606.1L628.9 602.6L631.4 610.4"/></g>
<text x="660.8" y="621.8" font-size="24.5" fill="#000" stroke="#000" stroke-width="0.4">L<tspan dx="0.4">F</tspan></text>
<g fill="none" stroke="#000"><circle cx="699" cy="610.1" r="6" stroke-width="1.5"/><path d="M699 616.1V627.2M693.1 621.5H704.9" stroke-width="1.3"/></g>
<text x="729.4" y="621.8" font-size="24.5" fill="#000" stroke="#000" stroke-width="0.4">L<tspan dx="0.4">F</tspan></text>
<g fill="none" stroke="#000" stroke-width="1.3"><circle cx="766" cy="618.8" r="5.9"/><path d="M768.5 613.4L773 602.8M765.6 606.1L773 602.6L775.5 610.4"/></g>
</g>
<g>
<text x="222.8" y="664" font-size="28.5" text-anchor="middle" fill="#000" stroke="#000" stroke-width="0.35">Spleen Weight</text>
<text transform="translate(38.8 806.3) rotate(-90)" font-size="28.9" text-anchor="middle" fill="#000" stroke="#000" stroke-width="0.35">Weight (g)</text>
<g font-size="24" fill="#4d4d4d" stroke="#4d4d4d" stroke-width="0.3"><text x="46.44" y="780.7">0</text><text x="59.78" y="780.7">.</text><text x="66.46" y="780.7">2</text></g>
<path d="M82.4 771.8H85.8" stroke="#5a5a5a" stroke-width="1.1"/>
<g font-size="24" fill="#4d4d4d" stroke="#4d4d4d" stroke-width="0.3"><text x="46.44" y="858.3">0</text><text x="59.78" y="858.3">.</text><path d="M75.4 858.3L73.29 858.3L73.29 844.86Q72.53 845.59 71.29 846.31Q70.05 847.04 69.07 847.4L69.07 845.36Q70.84 844.53 72.16 843.35Q73.49 842.16 74.04 841.05L75.4 841.05Z"/></g>
<path d="M82.4 849.4H85.8" stroke="#5a5a5a" stroke-width="1.1"/>
<path d="M116.5 704.7H200M249.5 704.7H332.6M160.5 704.7V685.8H295.4V704.7" fill="none" stroke="#000" stroke-width="1.6"/>
<g fill="#000" stroke="#000" stroke-width="0.5" stroke-linejoin="round"><polygon points="221.49,674.16 222.37,676.2 224.58,676.4 222.92,677.87 223.4,680.04 221.49,678.91 219.58,680.04 220.06,677.87 218.4,676.4 220.61,676.2"/><polygon points="228.75,674.16 229.63,676.2 231.84,676.4 230.18,677.87 230.66,680.04 228.75,678.91 226.84,680.04 227.32,677.87 225.66,676.4 227.87,676.2"/><polygon points="236.01,674.16 236.89,676.2 239.1,676.4 237.44,677.87 237.92,680.04 236.01,678.91 234.1,680.04 234.58,677.87 232.92,676.4 235.13,676.2"/></g>
<path d="M126.3 739.5V777M126.3 818V848.75" stroke="#484848" stroke-width="1.2"/>
<rect x="100.3" y="777" width="52" height="41" fill="#4f4f4f" stroke="#484848" stroke-width="1.15"/>
<path d="M100.3 805.75H152.3" stroke="#383838" stroke-width="2"/>
<g fill="#000"><circle cx="126.3" cy="739.5" r="3.75"/><circle cx="126.3" cy="747.5" r="3.75"/><circle cx="126.3" cy="755" r="3.75"/><circle cx="126.3" cy="772" r="3.75"/><circle cx="122.83" cy="779.5" r="3.75"/><circle cx="129.78" cy="779.5" r="3.75"/><circle cx="126.3" cy="795" r="3.75"/><circle cx="126.3" cy="802.5" r="3.75"/><circle cx="119.35" cy="810.5" r="3.75"/><circle cx="126.3" cy="810.5" r="3.75"/><circle cx="133.25" cy="810.5" r="3.75"/><circle cx="119.35" cy="818" r="3.75"/><circle cx="126.3" cy="818" r="3.75"/><circle cx="133.25" cy="818" r="3.75"/><circle cx="122.83" cy="848.75" r="3.75"/><circle cx="129.78" cy="848.75" r="3.75"/></g>
<path d="M194.5 771.25V802.5M194.5 833.25V864.25" stroke="#484848" stroke-width="1.2"/>
<rect x="168.5" y="802.5" width="52" height="30.75" fill="#999999" stroke="#484848" stroke-width="1.15"/>
<path d="M168.5 821H220.5" stroke="#383838" stroke-width="2"/>
<g fill="#000"><circle cx="194.5" cy="709.3" r="3.75"/><circle cx="194.5" cy="771.25" r="3.75"/><circle cx="194.5" cy="778.75" r="3.75"/><circle cx="194.5" cy="794.25" r="3.75"/><circle cx="187.55" cy="802.5" r="3.75"/><circle cx="194.5" cy="802.5" r="3.75"/><circle cx="201.45" cy="802.5" r="3.75"/><circle cx="194.5" cy="810.25" r="3.75"/><circle cx="191.03" cy="818" r="3.75"/><circle cx="197.97" cy="818" r="3.75"/><circle cx="187.55" cy="825.5" r="3.75"/><circle cx="194.5" cy="825.5" r="3.75"/><circle cx="201.45" cy="825.5" r="3.75"/><circle cx="187.55" cy="833.25" r="3.75"/><circle cx="194.5" cy="833.25" r="3.75"/><circle cx="201.45" cy="833.25" r="3.75"/><circle cx="194.5" cy="841" r="3.75"/><circle cx="194.5" cy="856.25" r="3.75"/><circle cx="194.5" cy="864.25" r="3.75"/><circle cx="194.5" cy="903.25" r="3.75"/></g>
<path d="M262.8 856V864M262.8 874.5V880.25" stroke="#484848" stroke-width="1.2"/>
<rect x="236.8" y="864" width="52" height="10.5" fill="#c2c2c2" stroke="#484848" stroke-width="1.15"/>
<path d="M236.8 868.5H288.8" stroke="#383838" stroke-width="2"/>
<g fill="#000"><circle cx="259.32" cy="856" r="3.75"/><circle cx="266.28" cy="856" r="3.75"/><circle cx="252.38" cy="864" r="3.75"/><circle cx="259.32" cy="864" r="3.75"/><circle cx="266.28" cy="864" r="3.75"/><circle cx="273.23" cy="864" r="3.75"/><circle cx="255.85" cy="871.5" r="3.75"/><circle cx="262.8" cy="871.5" r="3.75"/><circle cx="269.75" cy="871.5" r="3.75"/><circle cx="255.85" cy="880.25" r="3.75"/><circle cx="262.8" cy="880.25" r="3.75"/><circle cx="269.75" cy="880.25" r="3.75"/></g>
<path d="M331.5 841V850.75M331.5 878.25V880.25" stroke="#484848" stroke-width="1.2"/>
<rect x="305.5" y="850.75" width="52" height="27.5" fill="#e6e6e6" stroke="#484848" stroke-width="1.15"/>
<path d="M305.5 867.75H357.5" stroke="#383838" stroke-width="2"/>
<g fill="#000"><circle cx="331.5" cy="841" r="3.75"/><circle cx="328.02" cy="849" r="3.75"/><circle cx="334.98" cy="849" r="3.75"/><circle cx="331.5" cy="856.5" r="3.75"/><circle cx="331.5" cy="864" r="3.75"/><circle cx="328.02" cy="871.5" r="3.75"/><circle cx="334.98" cy="871.5" r="3.75"/><circle cx="324.55" cy="880.25" r="3.75"/><circle cx="331.5" cy="880.25" r="3.75"/><circle cx="338.45" cy="880.25" r="3.75"/></g>
<text x="92.65" y="941.5" font-size="24.5" fill="#000" stroke="#000" stroke-width="0.4">HF</text>
<g fill="none" stroke="#000"><circle cx="135" cy="929.8" r="6" stroke-width="1.5"/><path d="M135 935.8V946.9M129.1 941.2H140.9" stroke-width="1.3"/></g>
<text x="164.95" y="941.5" font-size="24.5" fill="#000" stroke="#000" stroke-width="0.4">HF</text>
<g fill="none" stroke="#000" stroke-width="1.3"><circle cx="206.9" cy="938.5" r="5.9"/><path d="M209.4 933.1L213.9 922.5M206.5 925.8L213.9 922.3L216.4 930.1"/></g>
<text x="245.8" y="941.5" font-size="24.5" fill="#000" stroke="#000" stroke-width="0.4">L<tspan dx="0.4">F</tspan></text>
<g fill="none" stroke="#000"><circle cx="284" cy="929.8" r="6" stroke-width="1.5"/><path d="M284 935.8V946.9M278.1 941.2H289.9" stroke-width="1.3"/></g>
<text x="314.4" y="941.5" font-size="24.5" fill="#000" stroke="#000" stroke-width="0.4">L<tspan dx="0.4">F</tspan></text>
<g fill="none" stroke="#000" stroke-width="1.3"><circle cx="351" cy="938.5" r="5.9"/><path d="M353.5 933.1L358 922.5M350.6 925.8L358 922.3L360.5 930.1"/></g>
</g>
<g>
<text x="635.1" y="663" font-size="28.5" text-anchor="middle" fill="#000" stroke="#000" stroke-width="0.35">Brown Fat Weight</text>
<text transform="translate(442.8 813.65) rotate(-90)" font-size="30.7" text-anchor="middle" fill="#000" stroke="#000" stroke-width="0.35">Weight (g)</text>
<g font-size="24" fill="#4d4d4d" stroke="#4d4d4d" stroke-width="0.3"><path d="M461.08 736.7L458.97 736.7L458.97 723.26Q458.21 723.99 456.97 724.71Q455.74 725.44 454.75 725.8L454.75 723.76Q456.52 722.93 457.85 721.75Q459.17 720.56 459.72 719.45L461.08 719.45Z"/><text x="465.48" y="736.7">.</text><text x="472.16" y="736.7">5</text></g>
<path d="M487.8 727.8H491.6" stroke="#5a5a5a" stroke-width="1.1"/>
<g font-size="24" fill="#4d4d4d" stroke="#4d4d4d" stroke-width="0.3"><path d="M461.08 801.6L458.97 801.6L458.97 788.16Q458.21 788.89 456.97 789.61Q455.74 790.34 454.75 790.7L454.75 788.66Q456.52 787.83 457.85 786.65Q459.17 785.46 459.72 784.35L461.08 784.35Z"/><text x="465.48" y="801.6">.</text><text x="472.16" y="801.6">0</text></g>
<path d="M487.8 792.7H491.6" stroke="#5a5a5a" stroke-width="1.1"/>
<g font-size="24" fill="#4d4d4d" stroke="#4d4d4d" stroke-width="0.3"><text x="452.14" y="866.5">0</text><text x="465.48" y="866.5">.</text><text x="472.16" y="866.5">5</text></g>
<path d="M487.8 857.6H491.6" stroke="#5a5a5a" stroke-width="1.1"/>
<g font-size="24" fill="#4d4d4d" stroke="#4d4d4d" stroke-width="0.3"><text x="452.14" y="931.4">0</text><text x="465.48" y="931.4">.</text><text x="472.16" y="931.4">0</text></g>
<path d="M487.8 922.5H491.6" stroke="#5a5a5a" stroke-width="1.1"/>
<path d="M527.4 702.7H611.2M662.1 702.7H745.9M571.7 702.7V683.9H706.5V702.7" fill="none" stroke="#000" stroke-width="1.6"/>
<g fill="#000" stroke="#000" stroke-width="0.5" stroke-linejoin="round"><polygon points="633.29,672.26 634.17,674.3 636.38,674.5 634.72,675.97 635.2,678.14 633.29,677.01 631.38,678.14 631.86,675.97 630.2,674.5 632.41,674.3"/><polygon points="640.55,672.26 641.43,674.3 643.64,674.5 641.98,675.97 642.46,678.14 640.55,677.01 638.64,678.14 639.12,675.97 637.46,674.5 639.67,674.3"/><polygon points="647.81,672.26 648.69,674.3 650.9,674.5 649.24,675.97 649.72,678.14 647.81,677.01 645.9,678.14 646.38,675.97 644.72,674.5 646.93,674.3"/></g>
<path d="M536 709.5V782M536 869.25V897" stroke="#484848" stroke-width="1.2"/>
<rect x="508.2" y="782" width="55.6" height="87.25" fill="#4f4f4f" stroke="#484848" stroke-width="1.15"/>
<path d="M508.2 844.25H563.8" stroke="#383838" stroke-width="2"/>
<g fill="#000"><circle cx="536" cy="709.5" r="3.75"/><circle cx="536" cy="741.75" r="3.75"/><circle cx="536" cy="753.25" r="3.75"/><circle cx="536" cy="762.5" r="3.75"/><circle cx="536" cy="788.7" r="3.75"/><circle cx="536" cy="810.75" r="3.75"/><circle cx="536" cy="827.5" r="3.75"/><circle cx="536" cy="842.5" r="3.75"/><circle cx="532.52" cy="848" r="3.75"/><circle cx="539.48" cy="848" r="3.75"/><circle cx="536" cy="863.75" r="3.75"/><circle cx="532.52" cy="871.25" r="3.75"/><circle cx="539.48" cy="871.25" r="3.75"/><circle cx="532.52" cy="887" r="3.75"/><circle cx="539.48" cy="887" r="3.75"/><circle cx="536" cy="897" r="3.75"/></g>
<path d="M609.5 775V805.75M609.5 851.4V917" stroke="#484848" stroke-width="1.2"/>
<rect x="581.7" y="805.75" width="55.6" height="45.65" fill="#999999" stroke="#484848" stroke-width="1.15"/>
<path d="M581.7 840.1H637.3" stroke="#383838" stroke-width="2"/>
<g fill="#000"><circle cx="609.5" cy="728" r="3.75"/><circle cx="609.5" cy="775" r="3.75"/><circle cx="602.4" cy="780" r="3.75"/><circle cx="616.6" cy="780" r="3.75"/><circle cx="609.5" cy="813.1" r="3.75"/><circle cx="602.55" cy="822.6" r="3.75"/><circle cx="609.5" cy="822.6" r="3.75"/><circle cx="616.45" cy="822.6" r="3.75"/><circle cx="595.6" cy="841.6" r="3.75"/><circle cx="602.55" cy="841.6" r="3.75"/><circle cx="609.5" cy="841.6" r="3.75"/><circle cx="616.45" cy="841.6" r="3.75"/><circle cx="623.4" cy="841.6" r="3.75"/><circle cx="606.02" cy="852.75" r="3.75"/><circle cx="612.98" cy="852.75" r="3.75"/><circle cx="606.02" cy="870.75" r="3.75"/><circle cx="612.98" cy="870.75" r="3.75"/><circle cx="609.5" cy="901.5" r="3.75"/><circle cx="609.5" cy="917" r="3.75"/></g>
<path d="M682.9 885.3V890.3M682.9 905.3V912.3" stroke="#484848" stroke-width="1.2"/>
<rect x="655.1" y="890.3" width="55.6" height="15" fill="#c2c2c2" stroke="#484848" stroke-width="1.15"/>
<path d="M655.1 896.8H710.7" stroke="#383838" stroke-width="2"/>
<g fill="#000"><circle cx="682.9" cy="885.3" r="3.75"/><circle cx="669" cy="891.4" r="3.75"/><circle cx="675.95" cy="891.4" r="3.75"/><circle cx="682.9" cy="891.4" r="3.75"/><circle cx="689.85" cy="891.4" r="3.75"/><circle cx="696.8" cy="891.4" r="3.75"/><circle cx="675.95" cy="900.4" r="3.75"/><circle cx="682.9" cy="900.4" r="3.75"/><circle cx="689.85" cy="900.4" r="3.75"/><circle cx="675.95" cy="912.2" r="3.75"/><circle cx="682.9" cy="912.2" r="3.75"/><circle cx="689.85" cy="912.2" r="3.75"/></g>
<path d="M756.5 898.2V898.2M756.5 908.4V908.4" stroke="#484848" stroke-width="1.2"/>
<rect x="728.7" y="898.2" width="55.6" height="10.2" fill="#e6e6e6" stroke="#484848" stroke-width="1.15"/>
<path d="M728.7 901.5H784.3" stroke="#383838" stroke-width="2"/>
<g fill="#000"><circle cx="756.5" cy="890.4" r="3.75"/><circle cx="742.6" cy="899.9" r="3.75"/><circle cx="749.55" cy="899.9" r="3.75"/><circle cx="756.5" cy="899.9" r="3.75"/><circle cx="763.45" cy="899.9" r="3.75"/><circle cx="770.4" cy="899.9" r="3.75"/><circle cx="746.08" cy="908.5" r="3.75"/><circle cx="753.02" cy="908.5" r="3.75"/><circle cx="759.98" cy="908.5" r="3.75"/><circle cx="766.92" cy="908.5" r="3.75"/></g>
<text x="506.35" y="941.5" font-size="24.5" fill="#000" stroke="#000" stroke-width="0.4">HF</text>
<g fill="none" stroke="#000"><circle cx="548.7" cy="929.8" r="6" stroke-width="1.5"/><path d="M548.7 935.8V946.9M542.8 941.2H554.6" stroke-width="1.3"/></g>
<text x="578.65" y="941.5" font-size="24.5" fill="#000" stroke="#000" stroke-width="0.4">HF</text>
<g fill="none" stroke="#000" stroke-width="1.3"><circle cx="620.6" cy="938.5" r="5.9"/><path d="M623.1 933.1L627.6 922.5M620.2 925.8L627.6 922.3L630.1 930.1"/></g>
<text x="659.5" y="941.5" font-size="24.5" fill="#000" stroke="#000" stroke-width="0.4">L<tspan dx="0.4">F</tspan></text>
<g fill="none" stroke="#000"><circle cx="697.7" cy="929.8" r="6" stroke-width="1.5"/><path d="M697.7 935.8V946.9M691.8 941.2H703.6" stroke-width="1.3"/></g>
<text x="728.1" y="941.5" font-size="24.5" fill="#000" stroke="#000" stroke-width="0.4">L<tspan dx="0.4">F</tspan></text>
<g fill="none" stroke="#000" stroke-width="1.3"><circle cx="764.7" cy="938.5" r="5.9"/><path d="M767.2 933.1L771.7 922.5M764.3 925.8L771.7 922.3L774.2 930.1"/></g>
</g>
</svg>
</body></html>
